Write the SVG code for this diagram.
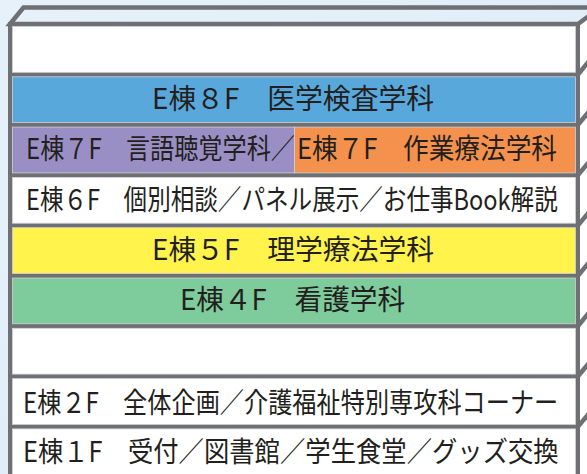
<svg xmlns="http://www.w3.org/2000/svg" width="587" height="474" viewBox="0 0 587 474">
  <defs>
    <linearGradient id="bg" x1="0" y1="0" x2="1" y2="1">
      <stop offset="0" stop-color="#e6f1fa"/>
      <stop offset="1" stop-color="#dcebf8"/>
    </linearGradient>
  </defs>
  <style>
    .wall { fill: #6f7073; }
    .edge { fill: none; stroke: #6f7073; stroke-width: 4.5; stroke-linejoin: miter; }
    .floor { stroke: #d0d2d4; stroke-width: 0.8; }
    .lbl { font-family: "Noto Sans CJK JP", "Noto Sans", sans-serif; font-size: 28px; fill: #231f20; }
  </style>
  <rect x="0" y="0" width="587" height="474" fill="url(#bg)"/>

  <g id="structure">
    <polygon points="578,24 592,7.5 592,474 578,474" fill="#ffffff"/>
    <polygon class="edge" points="23.5,7.5 600,7.5 578,24 10,24" fill="#ffffff"/>
    <rect class="wall" x="8" y="22" width="572" height="452"/>
    <g class="edge" stroke-width="4">
      <line x1="578" y1="74.5" x2="592" y2="57.5"/>
      <line x1="578" y1="124.8" x2="592" y2="107.8"/>
      <line x1="578" y1="175.1" x2="592" y2="158.1"/>
      <line x1="578" y1="225.4" x2="592" y2="208.4"/>
      <line x1="578" y1="275.7" x2="592" y2="258.7"/>
      <line x1="578" y1="326" x2="592" y2="309"/>
      <line x1="578" y1="376.3" x2="592" y2="359.3"/>
      <line x1="578" y1="426.6" x2="592" y2="409.6"/>
    </g>
  </g>

  <g id="floor-9">
    <rect class="floor" x="12.5" y="26.5" width="563" height="45.8" fill="#ffffff"/>
  </g>

  <g id="floor-8">
    <rect class="floor" x="12.5" y="76.8" width="563" height="45.8" fill="#59a8db"/>
    <text class="lbl" transform="translate(152,109) scale(0.953,1)" textLength="296" lengthAdjust="spacingAndGlyphs">E棟８F　医学検査学科</text>
  </g>

  <g id="floor-7-speech">
    <rect class="floor" x="12.5" y="127.1" width="282" height="45.8" fill="#9a8fc5"/>
    <text class="lbl" transform="translate(26,159.4) scale(0.83,1)" textLength="324" lengthAdjust="spacingAndGlyphs">E棟７F　言語聴覚学科／</text>
  </g>
  <g id="floor-7-ot">
    <rect class="floor" x="294.5" y="127.1" width="281" height="45.8" fill="#f4914c"/>
    <text class="lbl" transform="translate(297,159.4) scale(0.878,1)" textLength="296" lengthAdjust="spacingAndGlyphs">E棟７F　作業療法学科</text>
  </g>

  <g id="floor-6">
    <rect class="floor" x="12.5" y="177.4" width="563" height="45.8" fill="#ffffff"/>
    <text class="lbl" transform="translate(26,210) scale(0.827,1)" textLength="643" lengthAdjust="spacingAndGlyphs">E棟６F　個別相談／パネル展示／お仕事Book解説</text>
  </g>

  <g id="floor-5">
    <rect class="floor" x="12.5" y="227.7" width="563" height="45.8" fill="#fff34c"/>
    <text class="lbl" transform="translate(152,260) scale(0.953,1)" textLength="296" lengthAdjust="spacingAndGlyphs">E棟５F　理学療法学科</text>
  </g>

  <g id="floor-4">
    <rect class="floor" x="12.5" y="278" width="563" height="45.8" fill="#7ecb9b"/>
    <text class="lbl" transform="translate(180,310.3) scale(0.938,1)" textLength="240" lengthAdjust="spacingAndGlyphs">E棟４F　看護学科</text>
  </g>

  <g id="floor-3">
    <rect class="floor" x="12.5" y="328.3" width="563" height="45.8" fill="#ffffff"/>
  </g>

  <g id="floor-2">
    <rect class="floor" x="12.5" y="378.6" width="563" height="45.8" fill="#ffffff"/>
    <text class="lbl" transform="translate(23,412.5) scale(0.847,1)" textLength="632" lengthAdjust="spacingAndGlyphs">E棟２F　全体企画／介護福祉特別専攻科コーナー</text>
  </g>

  <g id="floor-1">
    <rect class="floor" x="12.5" y="428.9" width="563" height="46" fill="#ffffff"/>
    <text class="lbl" transform="translate(23,461.5) scale(0.93,1)" textLength="576" lengthAdjust="spacingAndGlyphs">E棟１F　受付／図書館／学生食堂／グッズ交換</text>
  </g>
</svg>
